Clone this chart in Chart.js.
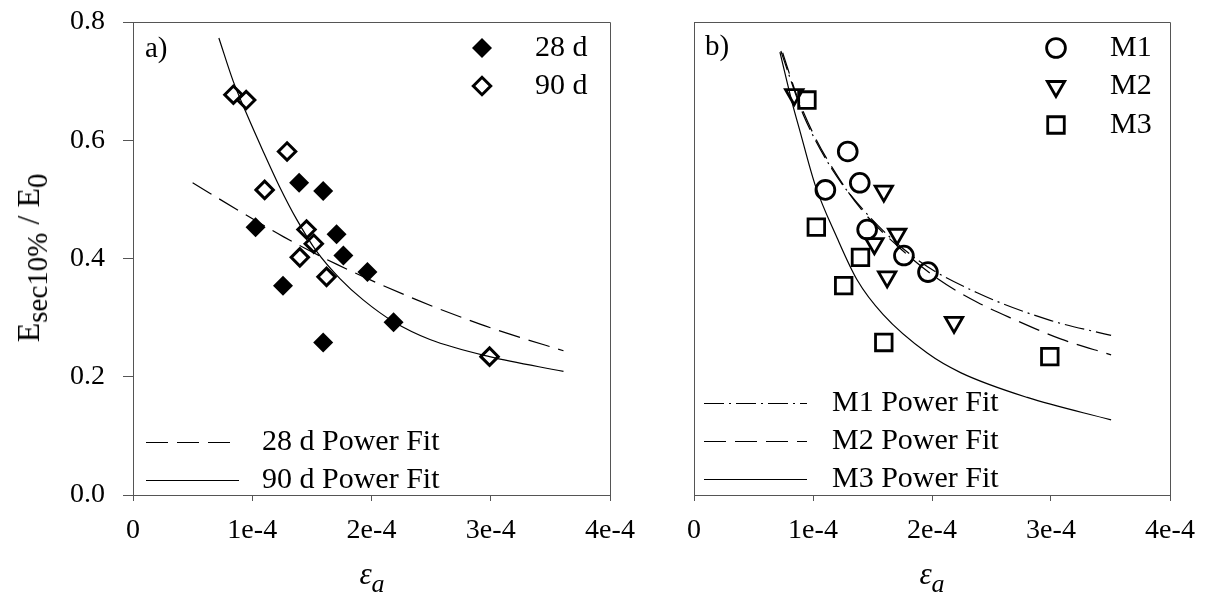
<!DOCTYPE html>
<html>
<head>
<meta charset="utf-8">
<title>Secant modulus ratio vs axial strain</title>
<script src="https://cdn.jsdelivr.net/npm/chart.js@4.4.1/dist/chart.umd.min.js"></script>
<style>
  html, body { margin: 0; padding: 0; background: #fff; }
  body {
    width: 1208px; height: 607px; position: relative; overflow: hidden;
    font-family: 'Liberation Serif', 'Times New Roman', serif; color: #000;
  }
  canvas { position: absolute; top: 0; }
  #panelA { left: 0; }
  #panelB { left: 650px; }
  .ytitle {
    position: absolute; left: 28px; top: 258px;
    transform: translate(-50%, -50%) rotate(-90deg);
    font-size: 32px; line-height: 1; white-space: nowrap;
  }
  .ytitle sub { font-size: 29px; vertical-align: baseline; position: relative; top: 0.28em; }
  .xtitle {
    position: absolute; top: 573px; transform: translate(-50%, -50%);
    font-size: 31px; font-style: italic; line-height: 1; white-space: nowrap;
  }
  .xtitle sub { font-size: 26px; vertical-align: baseline; position: relative; top: 0.3em; }
</style>
</head>
<body>
<canvas id="panelA" width="650" height="607"></canvas>
<canvas id="panelB" width="558" height="607"></canvas>
<div class="ytitle">E<sub>sec10%</sub> / E<sub>0</sub></div>
<div class="xtitle" style="left:372px">ε<sub>a</sub></div>
<div class="xtitle" style="left:932px">ε<sub>a</sub></div>

<script>
// ---------- axes ----------
const strainTicks = [0, 1e-4, 2e-4, 3e-4, 4e-4];
const strainTickLabels = ['0', '1e-4', '2e-4', '3e-4', '4e-4'];
const ratioTicks = [0, 0.2, 0.4, 0.6, 0.8];
const ratioTickLabels = ['0.0', '0.2', '0.4', '0.6', '0.8'];

// ---------- a) by curing age ----------
const strain28d = [1.393e-4, 1.595e-4, 1.028e-4, 1.707e-4, 1.764e-4, 1.966e-4, 1.258e-4, 2.185e-4, 1.595e-4];
const ratio28d  = [0.528, 0.514, 0.453, 0.441, 0.405, 0.377, 0.354, 0.292, 0.258];
const strain90d = [0.842e-4, 0.949e-4, 1.292e-4, 1.104e-4, 1.455e-4, 1.516e-4, 1.399e-4, 1.623e-4, 2.99e-4];
const ratio90d  = [0.677, 0.668, 0.581, 0.516, 0.449, 0.425, 0.402, 0.369, 0.234];

const fit28dX = [0.50e-4, 0.92e-4, 1.26e-4, 1.71e-4, 2.38e-4, 2.91e-4, 3.16e-4, 3.61e-4];
const fit28dY = [0.528, 0.477, 0.437, 0.390, 0.330, 0.289, 0.272, 0.244];
const fit90dX = [0.72e-4, 0.84e-4, 0.95e-4, 1.09e-4, 1.23e-4, 1.37e-4, 1.54e-4, 1.735e-4, 1.93e-4, 2.185e-4, 2.49e-4, 2.99e-4, 3.61e-4];
const fit90dY = [0.773, 0.700, 0.646, 0.582, 0.521, 0.467, 0.412, 0.366, 0.330, 0.293, 0.263, 0.234, 0.209];

// ---------- b) by mix ----------
const strainM1 = [1.292e-4, 1.393e-4, 1.104e-4, 1.455e-4, 1.764e-4, 1.966e-4];
const ratioM1  = [0.581, 0.528, 0.516, 0.449, 0.405, 0.377];
const strainM2 = [0.842e-4, 1.595e-4, 1.707e-4, 1.516e-4, 1.623e-4, 2.185e-4];
const ratioM2  = [0.677, 0.514, 0.441, 0.425, 0.369, 0.292];
const strainM3 = [0.949e-4, 1.028e-4, 1.399e-4, 1.258e-4, 1.595e-4, 2.99e-4];
const ratioM3  = [0.668, 0.453, 0.402, 0.354, 0.258, 0.234];

const fitM1X = [0.73e-4, 0.823e-4, 0.921e-4, 1.16e-4, 1.455e-4, 1.876e-4, 2.38e-4, 3.00e-4, 3.505e-4];
const fitM1Y = [0.751, 0.696, 0.642, 0.551, 0.475, 0.398, 0.342, 0.295, 0.270];
const fitM2X = [0.745e-4, 0.865e-4, 1.00e-4, 1.118e-4, 1.398e-4, 1.75e-4, 2.045e-4, 2.38e-4, 2.69e-4, 3.08e-4, 3.505e-4];
const fitM2Y = [0.748, 0.675, 0.612, 0.568, 0.485, 0.414, 0.366, 0.326, 0.297, 0.264, 0.237];
const fitM3X = [0.722e-4, 0.823e-4, 0.891e-4, 1.017e-4, 1.202e-4, 1.37e-4, 1.59e-4, 1.96e-4, 2.24e-4, 2.80e-4, 3.505e-4];
const fitM3Y = [0.749, 0.665, 0.615, 0.525, 0.435, 0.364, 0.305, 0.240, 0.207, 0.165, 0.127];

const fontFamily = "'Liberation Serif', 'Times New Roman', serif";
const axisColor = '#555';
const clear = 'rgba(0,0,0,0)';

const pts = (xs, ys) => xs.map((x, i) => ({ x: x, y: ys[i] }));

function markers(label, xs, ys, style, radius, fill, border, rotation) {
    return {
        label: label,
        data: pts(xs, ys),
        showLine: false,
        pointStyle: style,
        pointRadius: radius,
        pointRotation: rotation || 0,
        pointBackgroundColor: fill,
        pointBorderColor: '#000',
        pointBorderWidth: border
    };
}

function fitLine(label, xs, ys, dash) {
    return {
        label: label,
        data: pts(xs, ys),
        showLine: true,
        borderColor: '#000',
        borderWidth: 1.2,
        borderDash: dash,
        pointRadius: 0,
        cubicInterpolationMode: 'monotone',
        fill: false
    };
}

// frame, panel letter and the in-plot legends
const panelDecor = {
    id: 'panelDecor',
    afterDraw(chart, args, o) {
        const { ctx, chartArea: a } = chart;
        const L = Math.round(a.left) + 0.5, R = Math.round(a.right) + 0.5;
        const T = Math.round(a.top) + 0.5, B = Math.round(a.bottom) + 0.5;
        ctx.save();
        ctx.strokeStyle = axisColor;
        ctx.lineWidth = 1;
        ctx.beginPath();
        ctx.moveTo(L, T);
        ctx.lineTo(R, T);
        ctx.lineTo(R, B);
        ctx.stroke();

        ctx.fillStyle = '#000';
        ctx.textAlign = 'left';
        ctx.textBaseline = 'middle';
        ctx.font = "29px " + fontFamily;
        ctx.fillText(o.letter, a.left + o.letterX, a.top + o.letterY);

        ctx.font = "30px " + fontFamily;
        let mi = 0, li = 0;
        chart.data.datasets.forEach(ds => {
            if (ds.showLine) {
                const y = Math.round(a.top + o.lines.y + li * o.lines.gap) + 0.5;
                ctx.save();
                ctx.strokeStyle = ds.borderColor;
                ctx.lineWidth = ds.borderWidth;
                ctx.setLineDash(ds.borderDash || []);
                ctx.beginPath();
                ctx.moveTo(a.left + o.lines.x0, y);
                ctx.lineTo(a.left + o.lines.x1, y);
                ctx.stroke();
                ctx.restore();
                ctx.fillText(ds.label, a.left + o.lines.textX, y);
                li++;
            } else {
                const y = a.top + o.marks.y + mi * o.marks.gap;
                ctx.save();
                ctx.fillStyle = ds.pointBackgroundColor;
                ctx.strokeStyle = ds.pointBorderColor;
                ctx.lineWidth = ds.pointBorderWidth;
                Chart.helpers.drawPoint(ctx, {
                    pointStyle: ds.pointStyle,
                    rotation: ds.pointRotation,
                    radius: ds.pointRadius,
                    borderWidth: ds.pointBorderWidth
                }, a.left + o.marks.x, y);
                ctx.restore();
                ctx.fillText(ds.label, a.left + o.marks.textX, y);
                mi++;
            }
        });
        ctx.restore();
    }
};

function panelOptions(p) {
    return {
        responsive: false,
        animation: false,
        events: [],
        layout: { padding: { top: 22, right: p.padRight, left: 0, bottom: 0 } },
        plugins: {
            legend: { display: false },
            tooltip: { enabled: false },
            panelDecor: p.decor
        },
        scales: {
            x: {
                type: 'linear',
                position: 'bottom',
                min: 0,
                max: 4e-4,
                afterBuildTicks: s => { s.ticks = strainTicks.map(v => ({ value: v })); },
                afterFit: s => { s.height = 112; },
                ticks: {
                    callback: (v, i) => strainTickLabels[i],
                    color: '#000',
                    font: { family: fontFamily, size: 28 },
                    padding: 13,
                    maxRotation: 0,
                    autoSkip: false
                },
                grid: { drawOnChartArea: false, drawTicks: true, tickLength: 6, tickColor: axisColor, color: axisColor },
                border: { display: true, color: axisColor, width: 1 }
            },
            y: {
                type: 'linear',
                position: 'left',
                min: 0,
                max: 0.8,
                afterBuildTicks: s => { s.ticks = ratioTicks.map(v => ({ value: v })); },
                // fixed axis width; the plot frame comes from the layout padding alone
                afterFit: s => { s.width = p.yWidth; s.paddingTop = 0; s.paddingBottom = 0; },
                ticks: {
                    display: p.yLabels,
                    callback: (v, i) => ratioTickLabels[i],
                    color: '#000',
                    font: { family: fontFamily, size: 28 },
                    padding: 18
                },
                grid: { drawOnChartArea: false, drawTicks: p.yLabels, tickLength: 10, tickColor: axisColor, color: axisColor },
                border: { display: true, color: axisColor, width: 1 }
            }
        }
    };
}

new Chart(document.getElementById('panelA'), {
    type: 'scatter',
    data: {
        datasets: [
            markers('28 d', strain28d, ratio28d, 'rectRot', 10, '#000', 0),
            markers('90 d', strain90d, ratio90d, 'rectRot', 8.7, clear, 3),
            fitLine('28 d Power Fit', fit28dX, fit28dY, [22, 9]),
            fitLine('90 d Power Fit', fit90dX, fit90dY, [])
        ]
    },
    options: panelOptions({
        padRight: 40,
        yWidth: 133,
        yLabels: true,
        decor: {
            letter: 'a)', letterX: 12, letterY: 27,
            marks: { x: 349, textX: 402, y: 26, gap: 38 },
            lines: { x0: 13, x1: 106, textX: 129, y: 420, gap: 37.6 }
        }
    }),
    plugins: [panelDecor]
});

new Chart(document.getElementById('panelB'), {
    type: 'scatter',
    data: {
        datasets: [
            markers('M1', strainM1, ratioM1, 'circle', 9.4, clear, 2.8),
            markers('M2', strainM2, ratioM2, 'triangle', 10, clear, 2.8, 180),
            markers('M3', strainM3, ratioM3, 'rect', 11.7, clear, 2.8),
            fitLine('M1 Power Fit', fitM1X, fitM1Y, [20, 5, 2, 5]),
            fitLine('M2 Power Fit', fitM2X, fitM2Y, [22, 9]),
            fitLine('M3 Power Fit', fitM3X, fitM3Y, [])
        ]
    },
    options: panelOptions({
        padRight: 38,
        yWidth: 44,
        yLabels: false,
        decor: {
            letter: 'b)', letterX: 11, letterY: 25,
            marks: { x: 362, textX: 416, y: 26, gap: 38.5 },
            lines: { x0: 10, x1: 113, textX: 138, y: 381.3, gap: 38 }
        }
    }),
    plugins: [panelDecor]
});
</script>
</body>
</html>
